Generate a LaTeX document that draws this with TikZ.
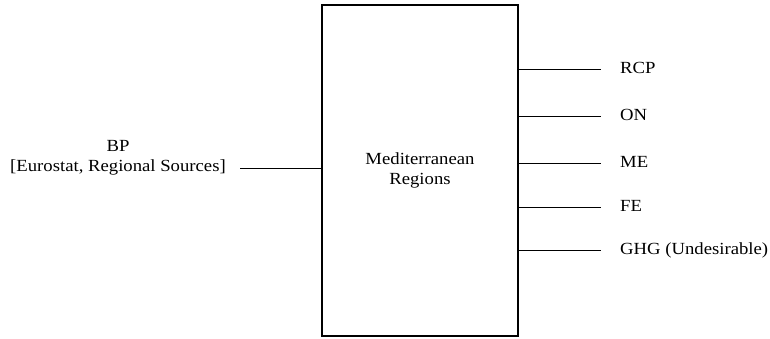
\documentclass[tikz,border=0pt]{standalone}
\usepackage{fontspec}
\setmainfont{Liberation Serif}[FakeStretch=1.1]
\begin{document}
\begin{tikzpicture}[x=1pt, y=-1pt,
    lbl/.style={font=\fontsize{17}{20}\selectfont, inner sep=0pt, text height=11.5pt, text depth=3.5pt},
    wire/.style={line width=0.9pt}]
    \useasboundingbox (0,0) rectangle (770,338);
    % DMU box
    \node[draw, line width=1.2pt, minimum width=196pt, minimum height=331pt,
          align=center, font=\fontsize{17}{20}\selectfont] (regions) at (420,170.5)
          {Mediterranean\\Regions};
    % input side
    \node[lbl, align=center, text height=, text depth=] (bp) at (118,158)
          {BP\\{[}Eurostat, Regional Sources{]}};
    \coordinate (inp) at (240,168);
    \draw[wire] (inp) -- (inp -| regions.west);
    % output side
    \foreach \name/\txt/\y in {rcp/RCP/69, on/ON/116, me/ME/163, fe/FE/207, ghg/GHG (Undesirable)/250} {
        \node[lbl, anchor=west] (\name) at (620,\y) {\txt};
        \draw[wire] (\name.west -| regions.east) -- ([xshift=-19pt]\name.west);
    }
\end{tikzpicture}
\end{document}
